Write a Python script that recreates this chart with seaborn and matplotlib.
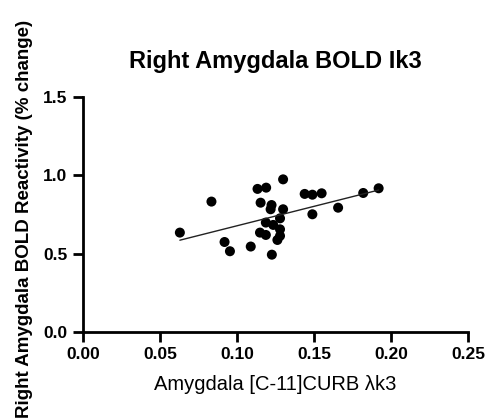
import matplotlib
matplotlib.use("Agg")
import matplotlib.pyplot as plt
import seaborn as sns
import pandas as pd

sns.set_style("ticks")
plt.rcParams['font.family'] = ['Liberation Sans', 'DejaVu Sans']
plt.rcParams.update({"text.color": "black", "axes.labelcolor": "black",
                     "xtick.color": "black", "ytick.color": "black"})

x_k3 = [0.063, 0.0835, 0.092, 0.0955, 0.109, 0.1134, 0.119, 0.130, 0.1154, 0.1225,
        0.1219, 0.130, 0.128, 0.1188, 0.1236, 0.128, 0.115, 0.1188, 0.128, 0.1263,
        0.1227, 0.144, 0.149, 0.155, 0.149, 0.1657, 0.182, 0.192]
y_bold = [0.634, 0.832, 0.574, 0.515, 0.545, 0.913, 0.921, 0.974, 0.825, 0.81,
          0.783, 0.783, 0.725, 0.698, 0.683, 0.655, 0.634, 0.619, 0.613, 0.587,
          0.493, 0.881, 0.876, 0.885, 0.751, 0.793, 0.887, 0.917]
x_ticks = [0.00, 0.05, 0.10, 0.15, 0.20, 0.25]
y_ticks = [0.0, 0.5, 1.0, 1.5]

df = pd.DataFrame({"x": x_k3, "y": y_bold})

fig = plt.figure(figsize=(4.87, 4.18), dpi=100)
ax = fig.add_axes([0.170, 0.206, 0.791, 0.562])
sns.regplot(data=df, x="x", y="y", ax=ax, ci=None, color="black",
            scatter_kws=dict(s=52, edgecolor="none", alpha=1),
            line_kws=dict(lw=1.0, color="#222222"), truncate=True)

ax.set_xlim(0, 0.25)
ax.set_ylim(0, 1.5)
ax.set_xticks(x_ticks)
ax.set_xticklabels([f"{v:.2f}" for v in x_ticks], fontweight="bold", fontsize=12.5,
                   color="black")
ax.set_yticks(y_ticks)
ax.set_yticklabels([f"{v:.1f}" for v in y_ticks], fontweight="bold", fontsize=12.5,
                   color="black")
ax.tick_params(direction="out", length=7.5, width=2, color="black", pad=3.5)
for s in ["top", "right"]:
    ax.spines[s].set_visible(False)
for s in ["left", "bottom"]:
    ax.spines[s].set_linewidth(2)
    ax.spines[s].set_color("black")

ax.set_xlabel("Amygdala [C-11]CURB \u03bbk3", fontsize=14.5, color="black")
ax.xaxis.set_label_coords(0.5, -0.185)
ax.set_ylabel("Right Amygdala BOLD Reactivity (% change)", fontsize=13.5,
              fontweight="bold", color="black")
ax.yaxis.set_label_coords(-0.13, 0.48)
ax.set_title("Right Amygdala BOLD Ik3", fontsize=17, fontweight="bold", pad=21,
             color="black")

fig.savefig("out.png", dpi=100)
